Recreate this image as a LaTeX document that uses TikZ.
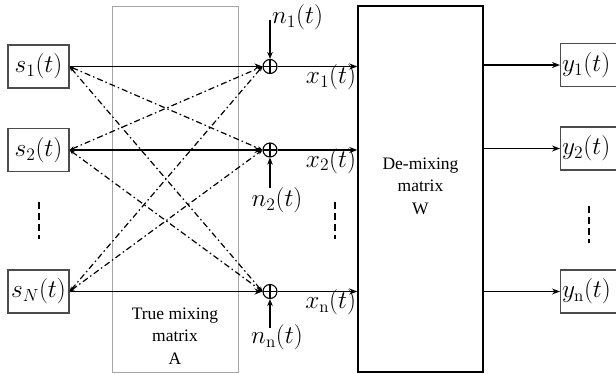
\documentclass[tikz,border=0pt]{standalone}
\usepackage{graphicx}
\usepackage{fontspec}
\newfontfamily\txtfont{Liberation Serif}
\newcommand\mth[1]{\scalebox{1.22}{$#1$}}
\usetikzlibrary{arrows.meta}
\begin{document}
\begin{tikzpicture}[x=1pt,y=-1pt,
  every node/.style={font=\fontsize{20}{24}\selectfont},
  sbox/.style={draw=black!70,line width=1.1pt,minimum width=61pt,minimum height=43pt,inner sep=0pt},
  ybox/.style={draw=black!70,line width=1.1pt,minimum width=60pt,minimum height=43pt,inner sep=0pt,anchor=west},
  plus/.style={circle,draw,line width=1.1pt,minimum size=14pt,inner sep=0pt,
    path picture={\draw[line width=1.1pt] (path picture bounding box.north) -- (path picture bounding box.south)
      (path picture bounding box.west) -- (path picture bounding box.east);}},
  arr/.style={line width=1.8pt,-{Stealth[length=8pt,width=6pt]}},
  thin arr/.style={line width=1.4pt,-{Stealth[length=7pt,width=5.5pt]}},
  dd/.style={line width=1.2pt,dash pattern=on 6pt off 3pt on 1.5pt off 3pt,{Stealth[length=5pt,width=4pt]}-{Stealth[length=5pt,width=4pt]}},
  vdash/.style={line width=1.3pt,dash pattern=on 7pt off 4pt},
  lbl/.style={font=\txtfont\fontsize{17.5}{22.5}\selectfont,align=center}
]
\useasboundingbox (0,0) rectangle (616,373);
% boxes
\node[draw=black!35,line width=1pt,minimum width=126pt,minimum height=366pt,inner sep=0pt] (A) at (175,189) {};
\node[draw=black,line width=1.4pt,minimum width=125pt,minimum height=366pt,inner sep=0pt] (W) at (420.5,189) {};
\node[lbl] (Atxt) at (175,336) {True mixing\\matrix\\A};
\node[lbl] (Wtxt) at (420.5,186) {De-mixing\\matrix\\W};
% sources
\node[sbox] (s1) at (38.5,66.5) {\mth{s_1(t)}};
\node[sbox] (s2) at (38.5,150) {\mth{s_2(t)}};
\node[sbox] (sN) at (38.5,291.5) {\mth{s_N(t)}};
% adders
\node[plus] (p1) at (270,66.5) {};
\node[plus] (p2) at (270,150) {};
\node[plus] (pN) at (270,291.5) {};
% outputs
\node[ybox,text width=57pt,align=left,inner sep=1pt] (y1) at (560,65) {\mth{y_1(t)}};
\node[ybox,text width=57pt,align=left,inner sep=1pt] (y2) at (560,148.5) {\mth{y_2(t)}};
\node[ybox,text width=57pt,align=left,inner sep=1pt] (yn) at (560,291.5) {\mth{y_{\mathrm{n}}(t)}};
% solid source lines
\draw[arr] (s1.east) -- (p1.west);
\draw[arr] (s2.east) -- (p2.west);
\draw[arr] (sN.east) -- (pN.west);
% cross lines
\draw[dd] (s1.east) -- (p2.west);
\draw[dd] (s1.east) -- (pN.west);
\draw[dd] (s2.east) -- (p1.west);
\draw[dd] (s2.east) -- (pN.west);
\draw[dd] (sN.east) -- (p1.west);
\draw[dd] (sN.east) -- (p2.west);
% noise
\coordinate (n1c) at (270,20);
\coordinate (n2c) at (270,188);
\coordinate (nnc) at (270,328);
\draw[thin arr] (n1c) -- (p1.north);
\draw[thin arr] (n2c) -- (p2.south);
\draw[thin arr] (nnc) -- (pN.south);
\node[anchor=west,inner sep=0pt] (n1) at (272,17) {\mth{n_1(t)}};
\node[inner sep=0pt] (n2) at (277,200) {\mth{n_2(t)}};
\node[inner sep=0pt] (nn) at (277,337) {\mth{n_{\mathrm{n}}(t)}};
% mixed signals
\draw[arr] (p1.east) -- (p1.east -| W.west) coordinate (w1);
\draw[arr] (p2.east) -- (p2.east -| W.west) coordinate (w2);
\draw[arr] (pN.east) -- (pN.east -| W.west) coordinate (wN);
\node[anchor=north east,inner sep=1pt] (x1) at ([yshift=3pt]w1) {\mth{x_1(t)}};
\node[anchor=north east,inner sep=1pt] (x2) at ([yshift=3pt]w2) {\mth{x_2(t)}};
\node[anchor=north east,inner sep=1pt] (xn) at ([yshift=3pt]wN) {\mth{x_{\mathrm{n}}(t)}};
% demixed outputs
\draw[arr] (W.east |- y1.west) -- (y1.west);
\draw[arr] (W.east |- y2.west) -- (y2.west);
\draw[arr] (W.east |- yn.west) -- (yn.west);
% vertical dashes
\coordinate (d1a) at (39,202); \coordinate (d1b) at (39,239);
\coordinate (d2a) at (335,202); \coordinate (d2b) at (335,239);
\coordinate (d3a) at (589,206); \coordinate (d3b) at (589,243);
\draw[vdash] (d1a) -- (d1b);
\draw[vdash] (d2a) -- (d2b);
\draw[vdash] (d3a) -- (d3b);
\end{tikzpicture}
\end{document}
